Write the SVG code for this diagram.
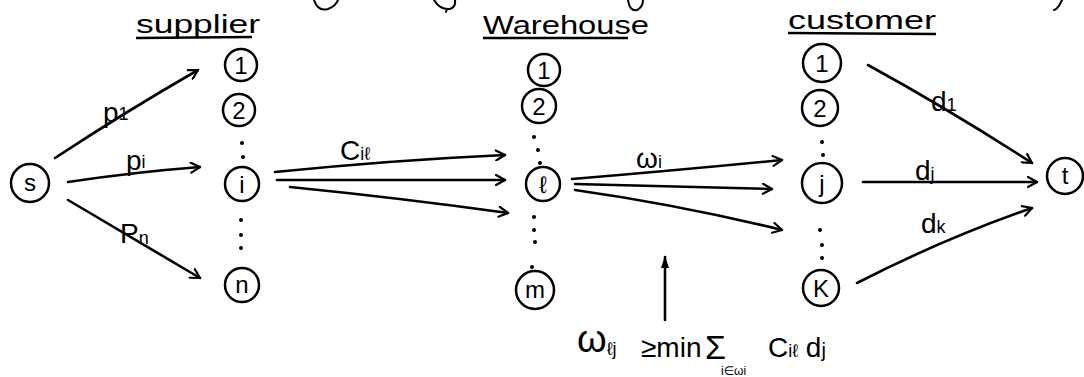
<svg xmlns="http://www.w3.org/2000/svg" width="1084" height="377" viewBox="0 0 1084 377">
<defs>
<style>
.bg{fill:#fff}
.n{fill:none;stroke:#000;stroke-width:2.5}
.e{fill:none;stroke:#000;stroke-width:2.6;stroke-linecap:round}
.t{font-family:"Liberation Sans","DejaVu Sans",sans-serif;fill:#000}
.nl{font-size:24px;text-anchor:middle}
.hd{font-size:26px}
.lb{font-size:28px}
.sub{font-size:18px}
.dot{fill:#000}
.ul{fill:none;stroke:#000;stroke-width:2.4}
</style>
<marker id="ah" viewBox="0 0 12 12" refX="11" refY="6" markerWidth="12" markerHeight="12" markerUnits="userSpaceOnUse" orient="auto">
<path d="M2,1 L11,6 L2,11" fill="none" stroke="#000" stroke-width="2.2" stroke-linecap="round" stroke-linejoin="round"/>
</marker>
<marker id="up" viewBox="0 0 12 10" refX="11" refY="5" markerWidth="12" markerHeight="10" markerUnits="userSpaceOnUse" orient="auto">
<path d="M0,1 L12,5 L0,9 Z" fill="#000"/>
</marker>
</defs>
<rect class="bg" width="1084" height="377"/>

<g id="fragments" class="e" style="stroke-width:2">
<path d="M314,0 Q318,12 328,9 Q336,6 338,0"/>
<path d="M434,0 Q440,10 450,9 Q456,7 455,0 M447,9 L446,12"/>
<path d="M628,0 Q630,12 637,10 Q643,7 643,0"/>
<path d="M1062,0 Q1058,9 1054,10"/>
</g>

<g id="headers" class="t">
<text class="hd" x="136" y="33" textLength="124" lengthAdjust="spacingAndGlyphs">supplier</text>
<path class="ul" d="M136,38 L252,37"/>
<text class="hd" x="483" y="34" textLength="166" lengthAdjust="spacingAndGlyphs">Warehouse</text>
<path class="ul" d="M483,38 L628,38"/>
<text class="hd" x="788" y="29" textLength="148" lengthAdjust="spacingAndGlyphs">customer</text>
<path class="ul" d="M788,33 L936,34"/>
</g>

<g id="connectors">
<path class="e" d="M55,158 Q125,112 198,70" marker-end="url(#ah)"/>
<path class="e" d="M68,182 Q135,172 200,167" marker-end="url(#ah)"/>
<path class="e" d="M68,200 Q110,225 200,278" marker-end="url(#ah)"/>
<path class="e" d="M275,172 Q395,160 505,155" marker-end="url(#ah)"/>
<path class="e" d="M277,180 L505,180" marker-end="url(#ah)"/>
<path class="e" d="M290,187 Q400,198 508,213" marker-end="url(#ah)"/>
<path class="e" d="M572,179 Q680,170 782,160" marker-end="url(#ah)"/>
<path class="e" d="M575,184 L772,189" marker-end="url(#ah)"/>
<path class="e" d="M575,190 Q680,205 782,230" marker-end="url(#ah)"/>
<path class="e" d="M868,65 Q950,110 1032,163" marker-end="url(#ah)"/>
<path class="e" d="M863,182 L1037,182" marker-end="url(#ah)"/>
<path class="e" d="M857,283 Q945,238 1032,208" marker-end="url(#ah)"/>
<path class="e" d="M665,320 L665,257" marker-end="url(#up)"/>
</g>

<g id="edge-labels" class="t">
<text class="lb" x="103" y="122">p<tspan class="sub" dy="-2">1</tspan></text>
<text class="lb" x="126" y="170">p<tspan class="sub" dy="-2">i</tspan></text>
<text class="lb" x="120" y="243">P<tspan class="sub" dy="1">n</tspan></text>
<text class="lb" x="340" y="160">C<tspan class="sub">iℓ</tspan></text>
<text class="lb" x="636" y="168">ω<tspan class="sub">i</tspan></text>
<text class="lb" x="931" y="111">d<tspan class="sub">1</tspan></text>
<text class="lb" x="915" y="180">d<tspan class="sub">j</tspan></text>
<text class="lb" x="921" y="233">d<tspan class="sub">k</tspan></text>
</g>

<g id="node-s"><circle class="n" cx="30" cy="183" r="19"/><text class="t nl" x="30" y="191">s</text></g>

<g id="supplier-1"><circle class="n" cx="241" cy="65" r="16"/><text class="t nl" x="241" y="74">1</text></g>
<g id="supplier-2"><circle class="n" cx="239" cy="110" r="16"/><text class="t nl" x="239" y="119">2</text></g>
<g id="supplier-i"><circle class="n" cx="242" cy="184" r="17"/><text class="t nl" x="242" y="193">i</text></g>
<g id="supplier-n"><circle class="n" cx="242" cy="285" r="17"/><text class="t nl" x="242" y="293">n</text></g>
<g id="supplier-dots" class="dot">
<circle cx="242" cy="143" r="2"/><circle cx="243" cy="157" r="2"/>
<circle cx="241" cy="220" r="2"/><circle cx="241" cy="235" r="2"/><circle cx="241" cy="248" r="2"/>
</g>

<g id="warehouse-1"><circle class="n" cx="544" cy="70" r="16"/><text class="t nl" x="544" y="79">1</text></g>
<g id="warehouse-2"><circle class="n" cx="539" cy="106" r="17"/><text class="t nl" x="539" y="115">2</text></g>
<g id="warehouse-l"><circle class="n" cx="543" cy="184" r="17"/><text class="t nl" x="543" y="193">ℓ</text></g>
<g id="warehouse-m"><circle class="n" cx="535" cy="290" r="19"/><text class="t nl" x="535" y="298">m</text></g>
<g id="warehouse-dots" class="dot">
<circle cx="534" cy="137" r="2"/><circle cx="538" cy="150" r="2"/><circle cx="540" cy="163" r="2"/>
<circle cx="534" cy="217" r="2"/><circle cx="534" cy="230" r="2"/><circle cx="535" cy="242" r="2"/><circle cx="532" cy="267" r="2"/>
</g>

<g id="customer-1"><circle class="n" cx="822" cy="63" r="19"/><text class="t nl" x="822" y="72">1</text></g>
<g id="customer-2"><circle class="n" cx="820" cy="108" r="18"/><text class="t nl" x="820" y="117">2</text></g>
<g id="customer-j"><circle class="n" cx="822" cy="183" r="20"/><text class="t nl" x="822" y="192">j</text></g>
<g id="customer-k"><circle class="n" cx="821" cy="288" r="18"/><text class="t nl" x="821" y="297">K</text></g>
<g id="customer-dots" class="dot">
<circle cx="822" cy="142" r="2"/><circle cx="823" cy="155" r="2"/>
<circle cx="820" cy="230" r="2"/><circle cx="822" cy="245" r="2"/><circle cx="822" cy="258" r="2"/>
</g>

<g id="node-t"><circle class="n" cx="1065" cy="176" r="18"/><text class="t nl" x="1065" y="184">t</text></g>

<g id="formula" class="t">
<text x="577" y="352" style="font-size:38px">ω<tspan style="font-size:18px" dy="3">ℓj</tspan></text>
<text x="641" y="357" style="font-size:28px">≥min</text>
<text x="705" y="359" style="font-size:34px">Σ</text>
<text x="721" y="375" style="font-size:12px">i∈ωi</text>
<text x="768" y="357" style="font-size:28px">C<tspan style="font-size:18px">iℓ</tspan> d<tspan style="font-size:20px">j</tspan></text>
</g>
</svg>
